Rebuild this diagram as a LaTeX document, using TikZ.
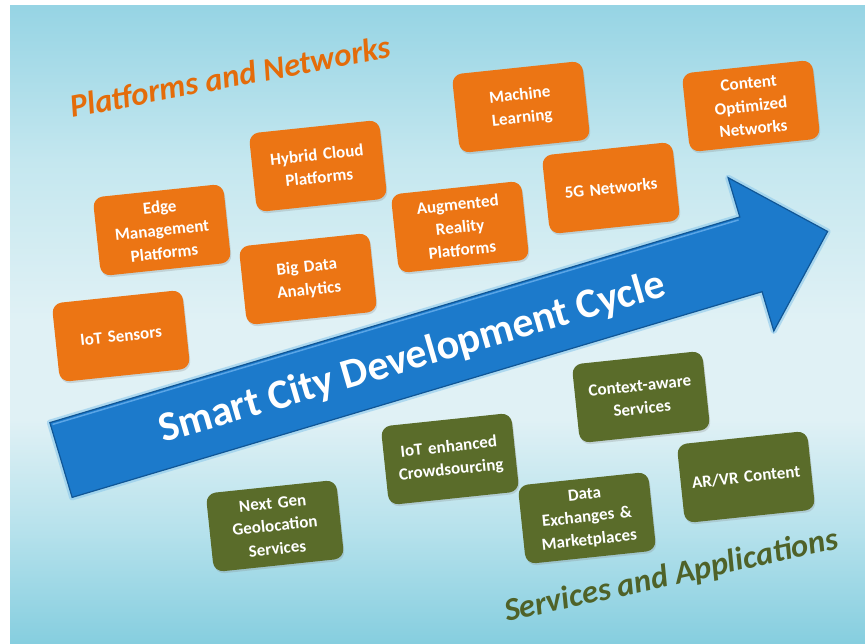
\documentclass[tikz,border=0pt]{standalone}
\usepackage{fontspec}
\setmainfont{Carlito}
\usetikzlibrary{shadows}
\definecolor{orangebox}{RGB}{236,117,20}
\definecolor{greenbox}{RGB}{90,108,42}
\definecolor{arrowblue}{RGB}{28,122,203}
\definecolor{arrowedge}{RGB}{16,86,150}
\definecolor{arrowglow}{RGB}{140,200,235}
\definecolor{arrowhl}{RGB}{90,165,230}
\definecolor{titleorange}{RGB}{228,108,10}
\definecolor{titlegreen}{RGB}{79,98,40}
\definecolor{bgA}{RGB}{150,212,228}
\definecolor{bgB}{RGB}{196,231,239}
\definecolor{bgC}{RGB}{224,241,245}
\definecolor{bgD}{RGB}{178,224,235}
\definecolor{bgE}{RGB}{134,206,223}
\begin{document}
\begin{tikzpicture}[x=1pt,y=-1pt,
  card/.style={rectangle, rounded corners=10pt, minimum width=131pt, minimum height=79pt,
    inner sep=0pt, text width=125pt, align=center, text=white,
    font=\fontsize{17}{23}\selectfont\bfseries, rotate=6,
    drop shadow={shadow xshift=1pt, shadow yshift=-2pt, opacity=.25}},
  ocard/.style={card, fill=orangebox},
  gcard/.style={card, fill=greenbox},
  heading/.style={anchor=base west, inner sep=0pt, font=\fontsize{32.5}{38}\selectfont\bfseries\itshape}]
\useasboundingbox (0,0) rectangle (865,643);
\fill[white] (0,0) rectangle (865,643);
% background
\shade[top color=bgA,bottom color=bgB] (10,5) rectangle (865,161);
\shade[top color=bgB,bottom color=bgC] (10,159) rectangle (865,321);
\fill[bgC] (10,319) rectangle (865,421);
\shade[top color=bgC,bottom color=bgD] (10,419) rectangle (865,541);
\shade[top color=bgD,bottom color=bgE] (10,539) rectangle (865,643);
% arrow
\begin{scope}[shift={(61,460)}, rotate=16.6]
  \draw[arrowglow, line width=6pt, line join=round, opacity=.6]
    (0,-39) -- (720,-39) -- (720,-80) -- (800,0) -- (720,80) -- (720,39) -- (0,39) -- cycle;
  \filldraw[fill=arrowblue, draw=arrowedge, line width=1.2pt, line join=miter]
    (0,-39) -- (720,-39) -- (720,-80) -- (800,0) -- (720,80) -- (720,39) -- (0,39) -- cycle;
  \draw[arrowhl, line width=1.5pt] (2,-36.5) -- (718,-36.5);
\end{scope}
\node[anchor=base west, inner sep=0pt, rotate=16.3, text=white,
  font=\fontsize{42}{48}\selectfont\bfseries] (cycle) at (163,443) {Smart City Development Cycle};
% headings
\node[heading, text=titleorange, rotate=10.8] (pn) at (72,118) {Platforms and Networks};
\node[heading, text=titlegreen, rotate=12.5] (sa) at (507,622) {Services and Applications};
% orange cards
\node[ocard] (edge) at (162,230) {Edge\\Management\\Platforms};
\node[ocard] (hybrid) at (318,166) {Hybrid Cloud\\Platforms};
\node[ocard] (bigdata) at (308,279) {Big Data\\Analytics};
\node[ocard] (iots) at (121,336) {IoT Sensors};
\node[ocard] (ar) at (460,227) {Augmented\\Reality\\Platforms};
\node[ocard] (ml) at (521,107) {Machine\\Learning};
\node[ocard] (fiveg) at (611,188) {5G Networks};
\node[ocard] (con) at (751,106) {Content\\Optimized\\Networks};
% green cards
\node[gcard] (geo) at (275,526) {Next Gen\\Geolocation\\Services};
\node[gcard] (crowd) at (450,459) {IoT enhanced\\Crowdsourcing};
\node[gcard] (ctx) at (641,397) {Context-aware\\Services};
\node[gcard] (dx) at (587,518) {Data\\Exchanges \&\\Marketplaces};
\node[gcard] (arvr) at (746,477) {AR/VR Content};
\end{tikzpicture}
\end{document}
